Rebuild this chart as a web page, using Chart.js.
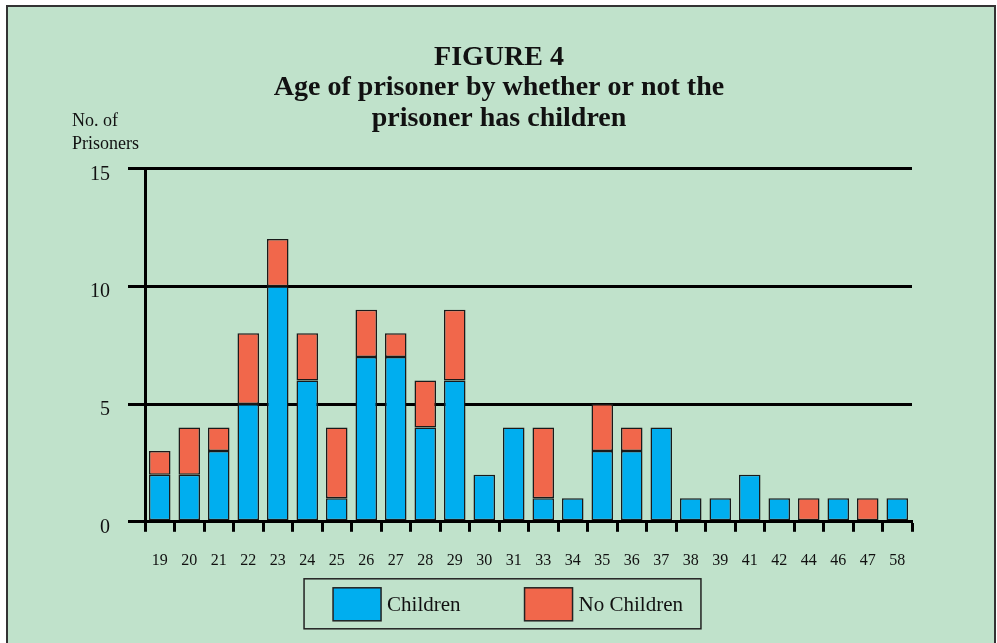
<!DOCTYPE html>
<html>
<head>
<meta charset="utf-8">
<script src="https://cdn.jsdelivr.net/npm/chart.js@4/dist/chart.umd.min.js"></script>
<style>
    html, body { margin: 0; padding: 0; background: #fff; }
    #wrap { width: 997px; height: 643px; }
</style>
</head>
<body>
<div id="wrap"><canvas id="grafico" width="997" height="643"></canvas></div>
<script>
// --- DADOS ---
const idades = ['19','20','21','22','23','24','25','26','27','28','29','30','31','33','34','35','36','37','38','39','41','42','44','46','47','58'];
const comFilhos = [2, 2, 3, 5, 10, 6, 1, 7, 7, 4, 6, 2, 4, 1, 1, 3, 3, 4, 1, 1, 2, 1, 0, 1, 0, 1];
const semFilhos = [1, 2, 1, 3, 2, 2, 3, 2, 1, 2, 3, 0, 0, 3, 0, 2, 1, 0, 0, 0, 0, 0, 1, 0, 1, 0];
const ticksY = [0, 5, 10, 15];

const VERDE = '#c0e2cb';
const AZUL = '#00aeef';
const VERMELHO = '#f1674b';
const SERIF = '"Liberation Serif", "DejaVu Serif", serif';

// fundo verde com moldura, titulo do eixo Y e legenda em caixa
const extras = {
    id: 'extras',
    beforeDraw(chart) {
        const c = chart.ctx;
        c.save();
        c.fillStyle = '#fff';
        c.fillRect(0, 0, chart.width, chart.height);
        c.fillStyle = VERDE;
        c.fillRect(6, 5, 990, chart.height - 5);
        c.strokeStyle = '#333';
        c.lineWidth = 2;
        c.beginPath();
        c.moveTo(7, chart.height);
        c.lineTo(7, 6);
        c.lineTo(995, 6);
        c.lineTo(995, chart.height);
        c.stroke();
        c.restore();
    },
    afterDraw(chart) {
        const c = chart.ctx;
        const area = chart.chartArea;
        c.save();
        // titulo do eixo Y
        c.fillStyle = '#111';
        c.font = '18px ' + SERIF;
        c.textAlign = 'left';
        c.textBaseline = 'alphabetic';
        c.fillText('No. of', area.left - 73, area.top - 42);
        c.fillText('Prisoners', area.left - 73, area.top - 19);

        // legenda desenhada a mao
        c.font = '21px ' + SERIF;
        const itens = chart.data.datasets.map(ds => ({
            texto: ds.label,
            cor: ds.backgroundColor,
            larg: c.measureText(ds.label).width
        }));
        const sw = 48, sh = 33, gapTxt = 6, gapItem = 64, margem = 29;
        let total = 0;
        itens.forEach((it, i) => { total += sw + gapTxt + it.larg + (i ? gapItem : 0); });
        const larguraCaixa = total + margem + 18;
        const cx = chart.width / 2 + 4;
        const topo = area.bottom + 57;
        const esq = cx - larguraCaixa / 2;
        c.strokeStyle = '#222';
        c.lineWidth = 1.5;
        c.strokeRect(esq, topo, larguraCaixa, 50);
        let x = esq + margem;
        const yBox = topo + 9;
        itens.forEach(it => {
            c.fillStyle = it.cor;
            c.fillRect(x, yBox, sw, sh);
            c.strokeRect(x, yBox, sw, sh);
            c.fillStyle = '#111';
            c.textBaseline = 'middle';
            c.fillText(it.texto, x + sw + gapTxt, yBox + sh / 2 + 1);
            x += sw + gapTxt + it.larg + gapItem;
        });
        c.restore();
    }
};

new Chart(document.getElementById('grafico'), {
    type: 'bar',
    data: {
        labels: idades,
        datasets: [
            {
                label: 'Children',
                data: comFilhos,
                backgroundColor: AZUL,
                borderColor: '#1a1a1a',
                borderWidth: 1.5,
                borderSkipped: false,
                barPercentage: 0.73,
                categoryPercentage: 1
            },
            {
                label: 'No Children',
                data: semFilhos,
                backgroundColor: VERMELHO,
                borderColor: '#1a1a1a',
                borderWidth: 1.5,
                borderSkipped: false,
                barPercentage: 0.73,
                categoryPercentage: 1
            }
        ]
    },
    options: {
        responsive: false,
        animation: false,
        layout: { padding: { top: 42, left: 86, right: 85, bottom: 54 } },
        plugins: {
            tooltip: { enabled: false },
            legend: { display: false },
            title: {
                display: true,
                text: ['FIGURE 4', 'Age of prisoner by whether or not the', 'prisoner has children'],
                color: '#111',
                font: { family: SERIF, size: 28, weight: 'bold', lineHeight: 1.1 },
                padding: { top: 0, bottom: 34 }
            }
        },
        scales: {
            x: {
                stacked: true,
                grid: {
                    offset: true,
                    drawOnChartArea: false,
                    drawTicks: true,
                    tickLength: 10,
                    tickWidth: 3,
                    tickColor: '#000'
                },
                border: { display: true, color: '#000', width: 3 },
                ticks: {
                    color: '#111',
                    font: { family: SERIF, size: 16 },
                    padding: 19,
                    maxRotation: 0,
                    autoSkip: false
                }
            },
            y: {
                stacked: true,
                min: 0,
                max: 15,
                afterFit(scale) { scale.width = 59; },
                afterBuildTicks(scale) { scale.ticks = ticksY.map(v => ({ value: v })); },
                grid: {
                    color: '#000',
                    lineWidth: 3,
                    tickLength: 17,
                    tickColor: '#000'
                },
                border: { display: true, color: '#000', width: 3 },
                ticks: {
                    color: '#111',
                    font: { family: SERIF, size: 20, lineHeight: '12px' },
                    padding: 18,
                    // rotulo um pouco abaixo da linha, como no original
                    callback: (v) => ['', String(v)]
                }
            }
        }
    },
    plugins: [extras]
});
</script>
</body>
</html>
